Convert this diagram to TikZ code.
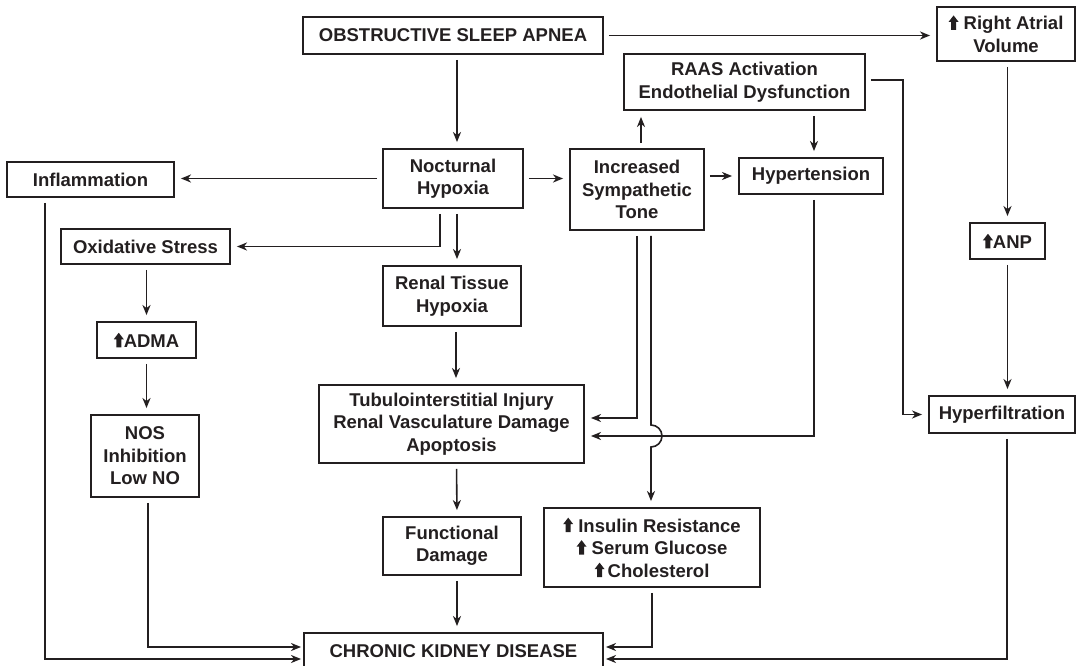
\documentclass[tikz,border=0pt]{standalone}
\usepackage{fontspec}
\setmainfont{Liberation Sans}
\usetikzlibrary{arrows.meta,calc}
\definecolor{ink}{HTML}{231F20}
\newcommand{\upa}{\tikz[baseline=0pt,x=1pt,y=1pt]\fill[ink] (-2.5,0) -- (-2.5,8) -- (-5,8) -- (0,14.5) -- (5,8) -- (2.5,8) -- (2.5,0) -- cycle;}
\tikzset{
  box/.style={draw=ink, line width=1.9pt, inner sep=0pt, align=center, text=ink,
    font=\fontsize{18.5}{22.5}\selectfont\bfseries},
  arr/.style={draw=ink, line width=1.6pt, -{Stealth[length=10pt,width=8pt,inset=3pt]},
    shorten >=6pt, shorten <=5pt},
}
\begin{document}
\begin{tikzpicture}[x=1pt,y=-1pt]
\useasboundingbox (0,0) rectangle (1077,666);
\node[box, minimum width=300pt, minimum height=37pt] (osa) at (453,35.5) {OBSTRUCTIVE SLEEP APNEA};
\node[box, minimum width=138pt, minimum height=54pt] (rav) at (1006,34) {\upa\ Right Atrial\\Volume};
\node[box, minimum width=241pt, minimum height=56pt] (raas) at (744.5,82) {RAAS Activation\\Endothelial Dysfunction};
\node[box, minimum width=140pt, minimum height=59pt] (noct) at (453,178.5) {Nocturnal\\Hypoxia};
\node[box, minimum width=134pt, minimum height=81pt] (symp) at (637,189.5) {Increased\\Sympathetic\\Tone};
\node[box, minimum width=144pt, minimum height=36pt] (hyp) at (811,176) {Hypertension};
\node[box, minimum width=167pt, minimum height=35pt] (infl) at (90.5,179.5) {Inflammation};
\node[box, minimum width=169pt, minimum height=35pt] (oxid) at (145.5,246.5) {Oxidative Stress};
\node[box, minimum width=75pt, minimum height=36pt] (anp) at (1007.5,241) {\upa ANP};
\node[box, minimum width=138pt, minimum height=60pt] (renal) at (452,296) {Renal Tissue\\Hypoxia};
\node[box, minimum width=99pt, minimum height=36pt] (adma) at (146.5,340) {\upa ADMA};
\node[box, minimum width=265pt, minimum height=78pt] (tub) at (451.5,424) {Tubulointerstitial Injury\\Renal Vasculature Damage\\Apoptosis};
\node[box, minimum width=108pt, minimum height=82pt] (nos) at (145,456) {NOS\\Inhibition\\Low NO};
\node[box, minimum width=146pt, minimum height=37pt] (hyf) at (1002,414.5) {Hyperfiltration};
\node[box, minimum width=138pt, minimum height=58pt] (func) at (452,546) {Functional\\Damage};
\node[box, minimum width=216pt, minimum height=79pt] (ins) at (652,547.5) {\upa\ Insulin Resistance\\\upa\ Serum Glucose\\\upa\,Cholesterol};
\node[box, minimum width=299pt, minimum height=36pt] (ckd) at (453.5,651) {CHRONIC KIDNEY DISEASE};

% top
\draw[arr] ([xshift=4pt]osa.south) -- ([xshift=4pt]noct.north);
\draw[arr] (osa.east) -- (osa.east -| rav.west);
\draw[arr] ([xshift=4pt]symp.north) -- ([xshift=4pt]symp.north |- raas.south);
\draw[arr] ([xshift=3pt]hyp.north |- raas.south) -- ([xshift=3pt]hyp.north);
\draw[arr] ([yshift=2pt]raas.east) -- ++(37,0) |- (hyf.west);
\draw[arr] (anp.north |- rav.south) -- (anp.north);
\draw[arr] (anp.south) -- (anp.south |- hyf.north);
% middle row
\draw[arr] (noct.west) -- (noct.west -| infl.east);
\draw[arr] (noct.east) -- (noct.east -| symp.west);
\draw[arr] (hyp.west -| symp.east) -- (hyp.west);
\draw[arr] ([xshift=-13pt]noct.south) |- (oxid.east);
\draw[arr] ([xshift=4pt]noct.south) -- ([xshift=4pt]noct.south |- renal.north);
\draw[arr] ([xshift=4pt]renal.south) -- ([xshift=4pt]renal.south |- tub.north);
% sympathetic and hypertension into tubulo
\draw[arr] (symp.south) |- ([yshift=6pt]tub.east);
\coordinate (hopc) at ($(symp.south |- tub.east)+(14,12)$);
\draw[arr] ([xshift=14pt]symp.south) -- ($(hopc)+(0,-11)$) arc[start angle=90,end angle=-90,radius=11pt] -- (hopc |- ins.north);
\draw[arr] ([xshift=3pt]hyp.south) |- ([yshift=-12pt]tub.east);
% left column
\draw[arr] (adma.north |- oxid.south) -- (adma.north);
\draw[arr] (adma.south) -- (adma.south |- nos.north);
% into CKD
\draw[arr, shorten >=2pt] ([xshift=-45.5pt]infl.south) |- ([yshift=-8pt]ckd.west);
\draw[arr, shorten >=2pt] ([xshift=3pt]nos.south) |- ([yshift=4pt]ckd.west);
\draw[arr] ([xshift=5pt]tub.south) -- ([xshift=5pt]func.north);
\draw[arr] ([xshift=5pt]func.south) -- ([xshift=5pt]func.south |- ckd.north);
\draw[arr, shorten >=2pt] (ins.south) |- ([yshift=4pt]ckd.east);
\draw[arr, shorten >=2pt] ([xshift=5pt]hyf.south) |- ([yshift=-8pt]ckd.east);
\end{tikzpicture}
\end{document}
